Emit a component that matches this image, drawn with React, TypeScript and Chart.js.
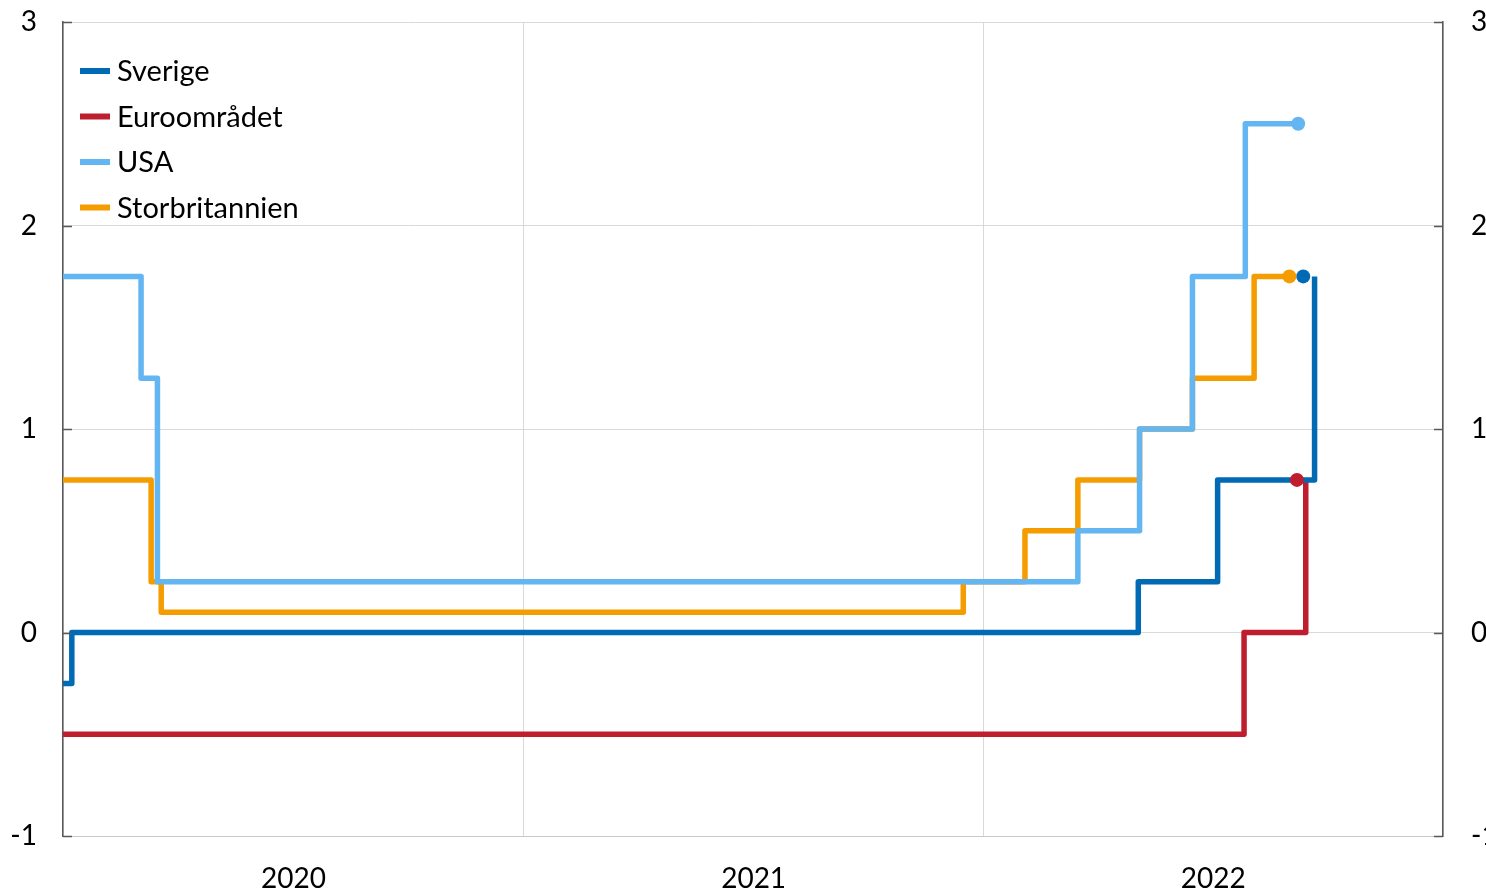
import { useEffect, useRef } from 'react';
import { Chart, registerables } from 'chart.js';
Chart.register(...registerables);

const seriesNames = ['Sverige', 'Euroområdet', 'USA', 'Storbritannien'];
const sverigeDates = ['2020-01-01', '2020-01-08', '2022-05-04', '2022-07-06', '2022-09-21'];
const sverigeRates = [-0.25, 0, 0.25, 0.75, 1.75];
const euroDates = ['2020-01-01', '2022-07-27', '2022-09-14'];
const euroRates = [-0.5, 0, 0.75];
const usaDates = ['2020-01-01', '2020-03-03', '2020-03-16', '2022-03-17', '2022-05-05', '2022-06-16', '2022-07-28', '2022-09-09'];
const usaRates = [1.75, 1.25, 0.25, 0.5, 1.0, 1.75, 2.5, 2.5];
const ukDates = ['2020-01-01', '2020-03-11', '2020-03-19', '2021-12-16', '2022-02-03', '2022-03-17', '2022-05-05', '2022-06-16', '2022-08-04', '2022-09-01'];
const ukRates = [0.75, 0.25, 0.1, 0.25, 0.5, 0.75, 1.0, 1.25, 1.75, 1.75];
const latestDates = ['2022-09-12', '2022-09-07', '2022-09-08', '2022-09-01'];
const latestRates = [1.75, 0.75, 2.5, 1.75];
const yearLabels = ['2020', '2021', '2022'];
const yearStarts = ['2020-01-01', '2021-01-01', '2022-01-01', '2023-01-01'];
const yTicks = [-1, 0, 1, 2, 3];

const colors = ['#006AB4', '#BE1E2D', '#63B6F2', '#F59C00'];
const FONT = 'Lato, "Noto Sans", sans-serif';

const dayNum = (s: string) => {
  const [y, m, d] = s.split('-').map(Number);
  return (Date.UTC(y, m - 1, d) - Date.UTC(2020, 0, 1)) / 86400000;
};
const toPts = (dates: string[], vals: number[]) => dates.map((d, i) => ({ x: dayNum(d), y: vals[i] }));

const legendPlugin = {
  id: 'insideLegend',
  afterDraw(chart: any) {
    const ctx = chart.ctx;
    const { left, right } = chart.chartArea;
    ctx.save();
    const ys = chart.scales.y;
    ctx.strokeStyle = '#595959';
    ctx.lineWidth = 1.5;
    yTicks.forEach((v) => {
      const py = Math.round(ys.getPixelForValue(v)) + 0.5;
      ctx.beginPath();
      ctx.moveTo(left, py);
      ctx.lineTo(left + 9, py);
      ctx.moveTo(right - 9, py);
      ctx.lineTo(right, py);
      ctx.stroke();
    });
    ctx.font = `29px ${FONT}`;
    ctx.textBaseline = 'middle';
    ctx.textAlign = 'left';
    seriesNames.forEach((name, i) => {
      const y = 71 + i * 45.5;
      ctx.strokeStyle = colors[i];
      ctx.lineWidth = 6;
      ctx.beginPath();
      ctx.moveTo(80, y);
      ctx.lineTo(110, y);
      ctx.stroke();
      ctx.fillStyle = '#000';
      ctx.fillText(name, 117, y + 1);
    });
    ctx.restore();
  },
};

const fitY = (w: number) => (s: any) => {
  s.width = w;
  s.paddingTop = 0;
  s.paddingBottom = 0;
};

export default function App() {
  const ref = useRef<HTMLCanvasElement | null>(null);
  useEffect(() => {
    if (!ref.current) return;
    const series = [
      toPts(sverigeDates, sverigeRates),
      toPts(euroDates, euroRates),
      toPts(usaDates, usaRates),
      toPts(ukDates, ukRates),
    ];
    const bounds = yearStarts.map(dayNum);
    const tickVals: number[] = [];
    for (let i = 0; i < bounds.length; i++) {
      tickVals.push(bounds[i]);
      if (i < bounds.length - 1) tickVals.push((bounds[i] + bounds[i + 1]) / 2);
    }
    const chart = new Chart(ref.current, {
      type: 'line',
      data: {
        datasets: [
          ...series.map((pts, i) => ({
            label: seriesNames[i],
            data: pts,
            borderColor: colors[i],
            backgroundColor: colors[i],
            borderWidth: 5.5,
            pointRadius: 0,
            stepped: 'before' as const,
            fill: false,
            borderJoinStyle: 'round' as const,
            borderCapStyle: 'butt' as const,
          })),
          {
            label: 'latest',
            data: toPts(latestDates, latestRates),
            showLine: false,
            pointRadius: 7,
            pointBackgroundColor: colors,
            pointBorderWidth: 0,
            borderColor: 'transparent',
            order: -1,
          } as any,
        ],
      },
      options: {
        animation: false,
        responsive: true,
        maintainAspectRatio: false,
        layout: { padding: { top: 22, left: 0, right: 0, bottom: 0 } },
        plugins: { legend: { display: false }, tooltip: { enabled: false } },
        scales: {
          x: {
            type: 'linear',
            min: bounds[0],
            max: bounds[bounds.length - 1],
            afterBuildTicks: (s: any) => {
              s.ticks = tickVals.map((v) => ({ value: v }));
            },
            afterFit: (s: any) => {
              s.height = 55;
              s.paddingLeft = 0;
              s.paddingRight = 0;
            },
            grid: {
              color: (c: any) => (c.index % 2 === 0 ? '#d9d9d9' : 'rgba(0,0,0,0)'),
              lineWidth: 1,
              drawTicks: false,
            },
            border: { color: '#c8c8c8', width: 1 },
            ticks: {
              autoSkip: false,
              maxRotation: 0,
              padding: 26,
              color: '#000',
              font: { family: FONT, size: 28 },
              callback: (_v: any, i: number) => (i % 2 === 1 ? yearLabels[(i - 1) / 2] : ''),
            },
          },
          y: {
            position: 'left',
            min: -1,
            max: 3,
            afterBuildTicks: (s: any) => {
              s.ticks = yTicks.map((v) => ({ value: v }));
            },
            afterFit: fitY(63),
            grid: { color: '#d9d9d9', lineWidth: 1, drawTicks: false },
            border: { color: '#595959', width: 1.5 },
            ticks: { padding: 26, color: '#000', font: { family: FONT, size: 28 } },
          },
          y2: {
            position: 'right',
            min: -1,
            max: 3,
            afterBuildTicks: (s: any) => {
              s.ticks = yTicks.map((v) => ({ value: v }));
            },
            afterFit: fitY(43),
            grid: { display: false, drawTicks: false },
            border: { color: '#595959', width: 1.5 },
            ticks: { padding: 28, color: '#000', font: { family: FONT, size: 28 } },
          },
        },
      },
      plugins: [legendPlugin],
    } as any);
    return () => chart.destroy();
  }, []);
  return (
    <div style={{ position: 'fixed', left: 0, top: 0, width: 1486, height: 891, background: '#fff' }}>
      <canvas ref={ref} />
    </div>
  );
}
